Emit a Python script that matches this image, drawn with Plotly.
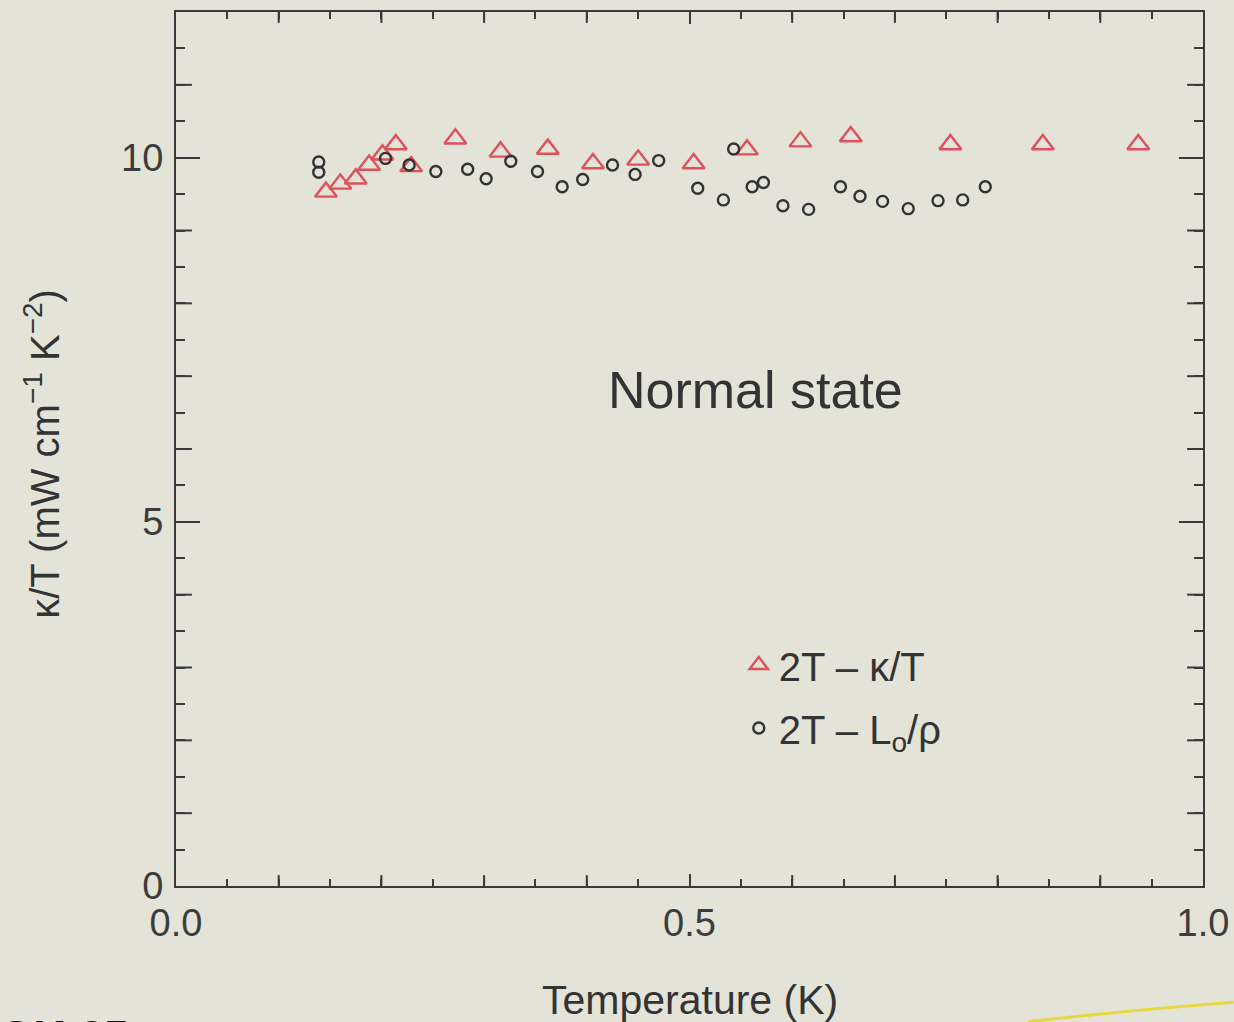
import plotly.graph_objects as go

# ---- data ----
T_kappa = [0.146, 0.160, 0.175, 0.188, 0.201, 0.214, 0.229, 0.272, 0.316, 0.362,
           0.406, 0.450, 0.504, 0.556, 0.608, 0.657, 0.754, 0.844, 0.937]
kappa_T = [9.53, 9.64, 9.71, 9.90, 10.04, 10.18, 9.88, 10.26, 10.08, 10.12,
           9.92, 9.97, 9.92, 10.11, 10.22, 10.29, 10.18, 10.18, 10.18]

T_wf = [0.139, 0.139, 0.204, 0.227, 0.253, 0.284, 0.302, 0.326, 0.352, 0.376,
        0.396, 0.425, 0.447, 0.470, 0.508, 0.533, 0.543, 0.561, 0.572, 0.591,
        0.616, 0.647, 0.666, 0.688, 0.713, 0.742, 0.766, 0.788]
L0_rho = [9.94, 9.80, 9.99, 9.90, 9.81, 9.84, 9.71, 9.95, 9.81, 9.60,
          9.70, 9.90, 9.77, 9.96, 9.58, 9.42, 10.12, 9.60, 9.66, 9.34,
          9.29, 9.60, 9.47, 9.40, 9.30, 9.41, 9.42, 9.60]

x_tick_vals = [0.0, 0.5, 1.0]
x_tick_text = ["0.0", "0.5", "1.0"]
x_mid_ticks = [0.1, 0.2, 0.3, 0.4, 0.6, 0.7, 0.8, 0.9]
y_tick_vals = [0, 5, 10]
y_tick_text = ["0", "5", "10"]
y_mid_ticks = [1, 2, 3, 4, 6, 7, 8, 9, 11]

BG = "#e3e3d7"
AX = "#3a3a3a"
RED = "#e0505c"
FONT = "Liberation Sans, Arial, Helvetica, sans-serif"

fig = go.Figure()
fig.add_trace(go.Scatter(
    x=T_kappa, y=kappa_T, mode="markers", name="2T \u2013 \u03ba/T", legendgroup="a",
    marker=dict(symbol="triangle-up-open", size=19, color=RED, line=dict(width=2.4, color=RED)),
))
fig.add_trace(go.Scatter(
    x=T_wf, y=L0_rho, mode="markers", name="2T \u2013 L<sub>o</sub>/\u03c1", legendgroup="b",
    marker=dict(symbol="circle-open", size=11, color="#333333", line=dict(width=2.4, color="#333333")),
))

axis_common = dict(
    showgrid=False, zeroline=False, showline=True, linecolor=AX, linewidth=2,
    mirror="allticks", ticks="inside", tickcolor=AX, tickwidth=2,
    tickfont=dict(family=FONT, size=38, color="#3c3c3c"),
)

fig.update_xaxes(
    range=[0, 1], tickmode="array", tickvals=x_tick_vals, ticktext=x_tick_text,
    ticklen=12, ticklabelstandoff=2,
    minor=dict(dtick=0.05, ticks="inside", ticklen=7, tickcolor=AX, tickwidth=2),
    **axis_common,
)
fig.update_yaxes(
    range=[0, 12], tickmode="array", tickvals=y_tick_vals, ticktext=y_tick_text,
    ticklen=24, ticklabelstandoff=3,
    minor=dict(dtick=0.5, ticks="inside", ticklen=9, tickcolor=AX, tickwidth=2),
    **axis_common,
)

shapes = []
# medium-length ticks (integers on y, tenths on x), on both sides
for v in y_mid_ticks:
    shapes.append(dict(type="line", xref="paper", yref="y", x0=0, x1=0.0155, y0=v, y1=v,
                       line=dict(color=AX, width=2)))
    shapes.append(dict(type="line", xref="paper", yref="y", x0=1, x1=0.9845, y0=v, y1=v,
                       line=dict(color=AX, width=2)))
for v in x_mid_ticks:
    shapes.append(dict(type="line", xref="x", yref="paper", x0=v, x1=v, y0=0, y1=0.0125,
                       line=dict(color=AX, width=2)))
    shapes.append(dict(type="line", xref="x", yref="paper", x0=v, x1=v, y0=1, y1=0.9875,
                       line=dict(color=AX, width=2)))
# yellow decorative curve at bottom right
shapes.append(dict(type="path", xref="paper", yref="paper",
                   path="M 0.83,-0.155 Q 0.95,-0.14 1.03,-0.133",
                   line=dict(color="#e8d840", width=3)))

fig.update_layout(
    width=1234, height=1022,
    margin=dict(l=176, r=31, t=12, b=136, autoexpand=False),
    paper_bgcolor=BG, plot_bgcolor=BG,
    font=dict(family=FONT, color="#333333"),
    showlegend=True,
    legend=dict(x=0.548, y=0.29, xanchor="left", yanchor="top",
                bgcolor="rgba(0,0,0,0)", font=dict(family=FONT, size=40, color="#333333"),
                tracegroupgap=8, itemwidth=30),
    shapes=shapes,
    annotations=[
        dict(text="Normal state", xref="paper", yref="paper", x=0.564, y=0.567,
             showarrow=False, font=dict(family=FONT, size=52, color="#333333"),
             xanchor="center", yanchor="middle"),
        dict(text="Temperature (K)", xref="paper", yref="paper", x=0.5, y=-0.130,
             showarrow=False, font=dict(family=FONT, size=41, color="#333333"),
             xanchor="center", yanchor="middle"),
        dict(text="\u03ba/T (mW cm<sup>\u22121</sup> K<sup>\u22122</sup>)", xref="paper", yref="paper",
             x=-0.13, y=0.495, textangle=-90, showarrow=False,
             font=dict(family=FONT, size=40, color="#333333"),
             xanchor="center", yanchor="middle"),
        dict(text="<b>GK-35</b>", xref="paper", yref="paper", x=-0.174, y=-0.142,
             showarrow=False, font=dict(family=FONT, size=44, color="#111111"),
             xanchor="left", yanchor="top"),
    ],
)

fig.write_html("out.html")
